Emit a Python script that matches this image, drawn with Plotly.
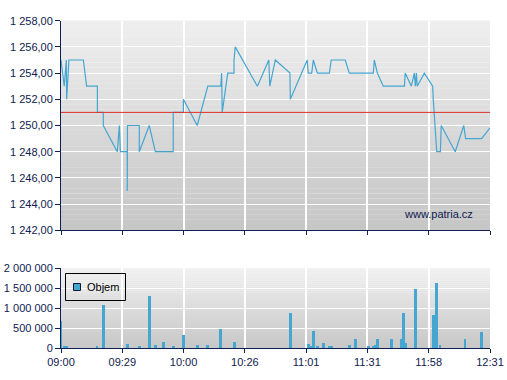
import plotly.graph_objects as go
import numpy as np

# ---------------- data ----------------
tick_labels = ["09:00", "09:29", "10:00", "10:26", "11:01", "11:31", "11:58", "12:31"]
session_minutes = 211  # 09:00 -> 12:31
prev_close = 1251.0

# price trades: minutes since 09:00, price
price_t = [0, 1.6, 2.6, 2.8, 3.9, 11.0, 12.6, 17.9, 17.9, 20.8, 20.8, 27.7, 28.7, 29.2,
           32.6, 32.6, 32.7, 38.5, 38.5, 43.4, 46.4, 55.2, 55.2, 60.2, 60.2, 67.0, 72.2,
           78.6, 79.0, 79.3, 82.0, 85.1, 85.1, 85.7, 96.6, 102.2, 102.7, 105.4, 112.6,
           112.8, 121.1, 121.6, 123.3, 124.1, 126.1, 132.0, 132.9, 139.8, 141.8, 153.6,
           154.1, 155.6, 158.5, 168.9, 169.3, 172.3, 173.8, 174.3, 174.8, 175.2, 178.7,
           182.8, 183.1, 184.8, 186.6, 187.0, 193.9, 198.1, 199.0, 206.9, 210.9]
price_v = [1255, 1253, 1255, 1252, 1255, 1255, 1253, 1253, 1251, 1251, 1250, 1248, 1250, 1248,
           1248, 1245, 1250, 1250, 1248, 1250, 1248, 1248, 1251, 1251, 1252, 1250, 1253,
           1253, 1254, 1251, 1254, 1254, 1255, 1256, 1253, 1255, 1253, 1255, 1254,
           1252, 1255, 1254, 1254, 1255, 1254, 1254, 1255, 1255, 1254, 1254,
           1255, 1254, 1253, 1253, 1254, 1253, 1254, 1253, 1254, 1253, 1254,
           1253, 1252, 1248, 1248, 1250, 1248, 1250, 1249, 1249, 1249.8]

# volume: minutes since 09:00, shares
vol_t = [0.0, 1.7, 2.9, 17.7, 20.8, 32.6, 38.5, 43.4, 46.4, 50.3, 55.2, 60.2, 67.0, 72.0,
         78.3, 85.2, 112.8, 121.6, 123.0, 124.1, 126.1, 129.0, 131.9, 133.0, 141.8, 144.7,
         151.1, 153.5, 154.4, 155.6, 162.5, 167.2, 168.4, 169.3, 174.3, 183.1, 184.6,
         186.4, 198.7, 206.7]
vol_v = [667000, 33000, 33000, 33000, 1083000, 83000, 33000, 1308000, 67000, 133000, 33000,
         308000, 58000, 58000, 458000, 133000, 883000, 83000, 33000, 408000, 33000, 108000,
         33000, 33000, 67000, 208000, 33000, 50000, 67000, 208000, 208000, 208000, 883000,
         108000, 1483000, 833000, 1633000, 67000, 208000, 383000]

price_ticks = [1242, 1244, 1246, 1248, 1250, 1252, 1254, 1256, 1258]
vol_ticks = [0, 500000, 1000000, 1500000, 2000000]
volume_name = "Objem"
watermark = "www.patria.cz"

# ---------------- styling ----------------
NAVY = "#0f2150"
BLUE = "#45a6d2"
FONT = "Arial, Liberation Sans, sans-serif"

W, H = 507, 380
L, R, T, B = 61, 17, 20, 32
pw, ph = W - L - R, H - T - B


def px_x(p):
    return (p - L) / pw


def px_y(p):
    return (H - B - p) / ph


top_dom = [px_y(230.3), px_y(20.7)]
bot_dom = [0, px_y(268.3)]
tickvals = list(np.linspace(0, session_minutes, len(tick_labels)))

fig = go.Figure()
fig.add_trace(go.Scatter(x=price_t, y=price_v, mode="lines",
                         line=dict(color=BLUE, width=1.2), xaxis="x", yaxis="y",
                         showlegend=False, hoverinfo="skip"))
fig.add_trace(go.Bar(x=vol_t, y=vol_v, name=volume_name, marker=dict(color=BLUE, line=dict(width=0)),
                     width=1.3, xaxis="x2", yaxis="y2", showlegend=False))

shapes = []


def gradient(xref, yref, c_top, c_bot, n=40):
    for i in range(n):
        f = (i + 0.5) / n
        c = [int(round(c_bot[k] + (c_top[k] - c_bot[k]) * f)) for k in range(3)]
        shapes.append(dict(type="rect", xref=xref, yref=yref, x0=0, x1=1,
                           y0=i / n, y1=(i + 1) / n + 0.001, layer="below",
                           line=dict(width=0), fillcolor="rgb(%d,%d,%d)" % tuple(c)))


gradient("x domain", "y domain", (239, 239, 239), (197, 197, 197))
gradient("x2 domain", "y2 domain", (239, 239, 239), (200, 200, 200))

# previous close reference line
shapes.append(dict(type="line", xref="x domain", yref="y", x0=0, x1=1,
                   y0=prev_close, y1=prev_close, line=dict(color="#e0302c", width=1)))

# manual legend box
shapes.append(dict(type="rect", xref="paper", yref="paper", x0=px_x(65.5), x1=px_x(125.5),
                   y0=px_y(300.5), y1=px_y(273.5), line=dict(color="#000000", width=1)))
shapes.append(dict(type="rect", xref="paper", yref="paper", x0=px_x(73.5), x1=px_x(80.5),
                   y0=px_y(290.5), y1=px_y(283.5), fillcolor=BLUE,
                   line=dict(color="#0a1a3a", width=1)))

annotations = [
    dict(text=volume_name, xref="paper", yref="paper", x=px_x(84.5), y=px_y(287),
         xanchor="left", yanchor="middle", showarrow=False,
         font=dict(family=FONT, size=11, color="#000000")),
    dict(text=watermark, xref="paper", yref="paper", x=px_x(438), y=px_y(213.5),
         xanchor="center", yanchor="middle", showarrow=False,
         font=dict(family=FONT, size=11, color=NAVY)),
]

axis_common = dict(showline=True, linecolor=NAVY, linewidth=1, ticks="outside",
                   tickcolor=NAVY, tickwidth=1, gridcolor="#ffffff", zeroline=False,
                   automargin=False,
                   tickfont=dict(family=FONT, size=11, color=NAVY))

fig.update_layout(
    template="none",
    width=W, height=H, margin=dict(l=L, r=R, t=T, b=B, autoexpand=False),
    paper_bgcolor="#ffffff", plot_bgcolor="rgba(0,0,0,0)",
    separators=", ", bargap=0, showlegend=False,
    font=dict(family=FONT, size=11, color=NAVY),
    xaxis=dict(domain=[0, 1], range=[0, session_minutes], anchor="y", tickvals=tickvals,
               ticktext=tick_labels, showticklabels=False, ticklen=4, gridwidth=1.5,
               **axis_common),
    yaxis=dict(domain=top_dom, range=[price_ticks[0], price_ticks[-1]], anchor="x",
               tickvals=price_ticks, tickformat=",.2f", ticklen=5, gridwidth=1,
               **axis_common),
    xaxis2=dict(domain=[0, 1], range=[0, session_minutes], anchor="y2", tickvals=tickvals,
                ticktext=tick_labels, ticklen=4, gridwidth=1.5, **axis_common),
    yaxis2=dict(domain=bot_dom, range=[vol_ticks[0], vol_ticks[-1]], anchor="x2",
                tickvals=vol_ticks, tickformat=",", ticklen=5, gridwidth=1,
                **axis_common),
    shapes=shapes, annotations=annotations,
)

fig.write_html("out.html")
